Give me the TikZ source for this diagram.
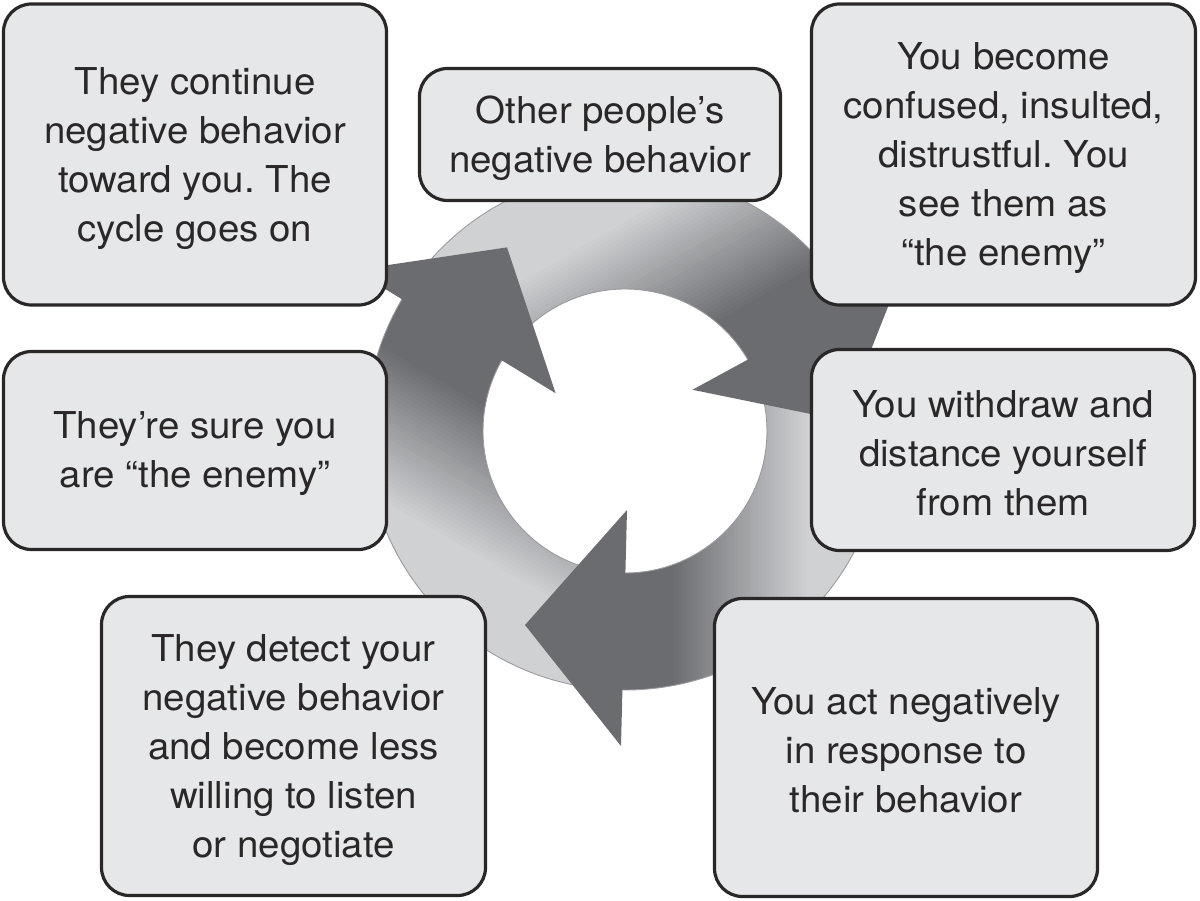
\documentclass[tikz,border=0pt]{standalone}
\usepackage{fontspec}
\setmainfont{TeX Gyre Heros}[FakeStretch=1.04]
\frenchspacing
\definecolor{lt}{HTML}{D0D1D3}
\definecolor{dk}{HTML}{6B6C70}
\definecolor{boxfill}{HTML}{E6E7E8}
\definecolor{outl}{HTML}{9A9B9E}
\definecolor{ink}{HTML}{2A2728}
\tikzset{
  cbox/.style={draw=ink, line width=3.2pt, fill=boxfill, rounded corners=28pt,
    inner sep=0pt},
  txt/.style={align=center, inner sep=0pt, text=ink,
    font=\fontsize{37pt}{49pt}\selectfont},
  ringline/.style={draw=outl, line width=0.9pt},
  headfill/.style={fill=dk}
}
\begin{document}
\begin{tikzpicture}[x=1pt,y=-1pt]
\useasboundingbox (0,0) rectangle (1200,901);
% ring bodies with linear gradient (light tail -> dark near head)
\foreach \ang in {0,120,240} {
  \begin{scope}[shift={(625,431)}, rotate=-\ang]
    \begin{scope}
      \clip (-25:259) arc[start angle=-25,end angle=91,radius=259]
        -- (91:142) arc[start angle=91,end angle=-25,radius=142] -- cycle;
      \fill[lt] (184,-330) rectangle (330,330);
      \fill[dk] (-330,-330) rectangle (46,330);
      \foreach \i in {0,...,34} {
        \pgfmathsetmacro\pc{100-100*\i/34}
        \fill[dk!\pc!lt] ({45+4*\i},-330) rectangle ({45+4*\i+4.6},330);
      }
    \end{scope}
  \end{scope}
}
% ring outlines
\draw[ringline] (625,431) circle[radius=259];
\draw[ringline] (625,431) circle[radius=142];
% arrow heads
\foreach \ang in {0,120,240} {
  \fill[headfill, shift={(625,431)}, rotate=-\ang] (2,79) -- (-100,194) -- (-4,315) -- cycle;
}
% boxes
\node[cbox, minimum width=383pt, minimum height=301pt] (continue) at (195,154.5) {};
\node[cbox, minimum width=361pt, minimum height=132pt] (other) at (600,134.5) {};
\node[cbox, minimum width=384pt, minimum height=301pt] (confused) at (1003.5,154.5) {};
\node[cbox, minimum width=383pt, minimum height=198pt] (sure) at (195,450.5) {};
\node[cbox, minimum width=383pt, minimum height=201pt] (withdraw) at (1003,450) {};
\node[cbox, minimum width=384pt, minimum height=299pt] (detect) at (293.5,746) {};
\node[cbox, minimum width=383pt, minimum height=298pt] (act) at (906,747.5) {};
% texts
\node[txt] (continue-t) at ([yshift=-4pt]continue.center)
  {They continue\\negative behavior\\toward you. The\\cycle goes on};
\node[txt] (other-t) at ([yshift=-4pt]other.center)
  {Other people’s\\negative behavior};
\node[txt] (confused-t) at ([yshift=-4pt]confused.center)
  {You become\\confused, insulted,\\distrustful. You\\see them as\\“the enemy”};
\node[txt] (sure-t) at ([yshift=-3pt]sure.center)
  {They’re sure you\\are “the enemy”};
\node[txt] (withdraw-t) at ([yshift=-3pt]withdraw.center)
  {You withdraw and\\distance yourself\\from them};
\node[txt] (detect-t) at ([yshift=-4pt]detect.center)
  {They detect your\\negative behavior\\and become less\\willing to listen\\or negotiate};
\node[txt] (act-t) at ([yshift=-3pt]act.center)
  {You act negatively\\in response to\\their behavior};
\end{tikzpicture}
\end{document}
